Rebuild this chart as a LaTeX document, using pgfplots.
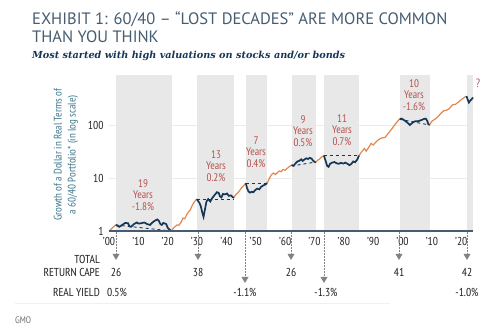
\documentclass[border=0pt]{standalone}
\usepackage{pgfplots}
\pgfplotsset{compat=1.18}
\usepackage{fontspec}
\setmainfont{PT Sans Narrow}
\newfontfamily\titlefont{PT Sans}
\newfontfamily\subfont{DejaVu Serif}
\definecolor{shadec}{RGB}{232,232,232}
\definecolor{navy}{RGB}{22,54,88}
\definecolor{orng}{RGB}{226,135,76}
\definecolor{redtxt}{RGB}{181,84,80}
\definecolor{titlec}{RGB}{70,92,112}
\definecolor{tealc}{RGB}{62,118,140}
\definecolor{arrowc}{RGB}{130,130,130}
\begin{document}
\begin{tikzpicture}[x=1pt,y=1pt]
\path[use as bounding box] (0,0) rectangle (500,334);
\begin{axis}[
  at={(109pt,103pt)}, anchor=south west, scale only axis,
  width=364pt, height=156pt,
  xmin=1900, xmax=2024, ymode=log, ymin=1, ymax=877,
  axis line style={draw=none}, tick style={draw=none},
  xtick={1900,1910,...,2020},
  xticklabels={’00,’10,’20,’30,’40,’50,’60,’70,’80,’90,’00,’10,’20},
  ytick={1,10,100}, yticklabels={1,10,100},
  xticklabel style={font=\fontsize{11.5}{12}\selectfont, text=black!85, anchor=base, yshift=-15pt},
  yticklabel style={font=\fontsize{11.5}{12}\selectfont, text=black!85, anchor=east, xshift=-2pt},
  ymajorgrids, grid style={black!8, line width=0.5pt},
  clip=false,
]
% shaded lost decades
\fill[shadec] (axis cs:1902.3,1) rectangle (axis cs:1921.3,877);
\fill[shadec] (axis cs:1929.9,1) rectangle (axis cs:1942.5,877);
\fill[shadec] (axis cs:1946.6,1) rectangle (axis cs:1953.9,877);
\fill[shadec] (axis cs:1962.2,1) rectangle (axis cs:1970.4,877);
\fill[shadec] (axis cs:1973.2,1) rectangle (axis cs:1985.2,877);
\fill[shadec] (axis cs:1999.0,1) rectangle (axis cs:2009.2,877);
\fill[shadec] (axis cs:2021.8,1) rectangle (axis cs:2024,877);
% dashed trend lines
\addplot[navy, dashed, line width=0.9pt] coordinates {(1902.3,1.3) (1921.3,1.0)};
\addplot[navy, dashed, line width=0.9pt] coordinates {(1929.9,4.0) (1942.5,4.0)};
\addplot[navy, dashed, line width=0.9pt] coordinates {(1946.6,8.0) (1953.9,8.0)};
\addplot[navy, dashed, line width=0.9pt] coordinates {(1962.2,16.8) (1970.4,20.0)};
\addplot[navy, dashed, line width=0.9pt] coordinates {(1973.2,26.5) (1985.2,26.5)};
\addplot[navy, dashed, line width=0.9pt] coordinates {(1999.0,128) (2009.2,100)};
% orange segments
\addplot[orng, line width=1.2pt] coordinates {(1900,1.0) (1900.7,1.08) (1901.4,1.18) (1902.3,1.3)};
\addplot[orng, line width=1.2pt] coordinates {(1921.3,1.0) (1922,1.15) (1922.6,1.22) (1923.2,1.3) (1923.8,1.28) (1924.5,1.45) (1925.2,1.75) (1925.8,1.7) (1926.4,2.0) (1927.1,2.3) (1927.7,2.5) (1928.3,3.0) (1929,3.5) (1929.9,4.0)};
\addplot[orng, line width=1.2pt] coordinates {(1942.5,4.2) (1943.1,4.8) (1943.8,5.2) (1944.5,5.8) (1945.2,6.6) (1945.9,7.2) (1946.6,8.0)};
\addplot[orng, line width=1.2pt] coordinates {(1953.9,8.0) (1954.5,9.5) (1955.3,11.5) (1956,12.4) (1956.7,11.6) (1957.3,12.5) (1958,13.6) (1958.7,13.2) (1959.3,14.5) (1960,14.0) (1960.7,15.2) (1961.5,16.5) (1962.2,17.6)};
\addplot[orng, line width=1.2pt] coordinates {(1970.4,19.5) (1971,21.5) (1971.6,22.5) (1972.3,24.5) (1973.2,26.5)};
\addplot[orng, line width=1.2pt] coordinates {(1985.2,26.5) (1986,31) (1987,36) (1987.6,32) (1988.5,38) (1989.3,45) (1990,42) (1991,48) (1992,54) (1993,57) (1994,58) (1995,68) (1996,80) (1997,95) (1998,112) (1999,130)};
\addplot[orng, line width=1.2pt] coordinates {(2009.2,100) (2010,118) (2011,128) (2012,142) (2013,165) (2014,185) (2015,190) (2016,205) (2017,240) (2018,245) (2019,270) (2020,300) (2021,330) (2021.8,350)};
% blue segments
\addplot[navy, line width=1.7pt] coordinates {(1902.3,1.3) (1903,1.25) (1903.5,1.2) (1904.5,1.3) (1905.5,1.42) (1906.5,1.4) (1907,1.22) (1907.5,1.2) (1908.5,1.35) (1909.5,1.45) (1910,1.38) (1911,1.4) (1912,1.45) (1913,1.35) (1914,1.3) (1914.5,1.4) (1915.5,1.55) (1916.5,1.65) (1917,1.55) (1917.5,1.35) (1918,1.3) (1918.5,1.42) (1919.5,1.35) (1920,1.15) (1920.7,1.05) (1921.3,1.0)};
\addplot[navy, line width=1.7pt] coordinates {(1929.9,4.0) (1930.3,3.7) (1930.8,3.4) (1931.3,2.9) (1931.8,2.2) (1932.2,1.85) (1932.6,2.4) (1933.2,3.6) (1933.8,4.0) (1934.5,3.6) (1935.2,4.2) (1936,4.8) (1936.8,5.4) (1937.4,5.2) (1937.8,4.5) (1938.3,4.3) (1938.8,5.0) (1939.5,4.9) (1940.2,5.1) (1940.8,4.6) (1941.5,4.7) (1942.5,4.2)};
\addplot[navy, line width=1.7pt] coordinates {(1946.6,8.0) (1947,6.5) (1947.5,5.6) (1948,5.3) (1948.6,5.5) (1949.2,5.4) (1949.8,5.9) (1950.5,6.3) (1951.2,6.1) (1951.8,6.8) (1952.5,7.2) (1953.2,7.5) (1953.9,8.0)};
\addplot[navy, line width=1.7pt] coordinates {(1962.2,17.6) (1962.9,17.0) (1963.5,18.8) (1964.2,20.5) (1964.8,21.0) (1965.5,22.5) (1966,21.0) (1966.5,22.2) (1967.2,23.5) (1967.8,22.8) (1968.4,24.0) (1969,23.2) (1969.6,21.0) (1970.4,19.5)};
\addplot[navy, line width=1.7pt] coordinates {(1973.2,26.5) (1973.8,21) (1974.3,17) (1974.8,16.2) (1975.3,18.5) (1976,19.5) (1976.8,20) (1977.5,19) (1978.2,18.5) (1979,19.3) (1979.8,18.7) (1980.5,19.5) (1981.2,18.6) (1981.9,17.5) (1982.5,18.3) (1983.2,20.5) (1983.8,19.8) (1984.5,22) (1985.2,26.5)};
\addplot[navy, line width=1.7pt] coordinates {(1999,130) (1999.7,132) (2000.4,125) (2001,118) (2001.7,110) (2002.5,100) (2003.2,108) (2003.8,115) (2004.5,118) (2005.2,117) (2005.9,121) (2006.6,125) (2007.3,130) (2007.9,132) (2008.4,120) (2008.8,103) (2009.2,100)};
\addplot[navy, line width=1.7pt] coordinates {(2021.8,350) (2022.2,300) (2022.6,265) (2023,285) (2023.5,305) (2024,330)};
% bottom axis line
\draw[titlec, line width=1.5pt] (axis cs:1900,1) -- (axis cs:2024,1);
\end{axis}
% region labels
\tikzset{rl/.style={align=center, text=redtxt, font=\fontsize{11}{11.5}\selectfont}}
\node[rl] at (143,139) {19\\Years\\-1.8\%};
\node[rl] at (216,168) {13\\Years\\0.2\%};
\node[rl] at (256,182) {7\\Years\\0.4\%};
\node[rl] at (303,203) {9\\Years\\0.5\%};
\node[rl] at (342,204) {11\\Years\\0.7\%};
\node[rl] at (414,239) {10\\Years\\-1.6\%};
\node[text=redtxt, font=\fontsize{12}{13}\selectfont] at (478,251) {?};
% y label
\node[rotate=90, align=center, text=tealc, font=\fontsize{11}{14}\selectfont] at (66,179) {Growth of a Dollar in Real Terms of\\a 60/40 Portfolio* (in log scale)};
% title
\node[anchor=base west, text=titlec, font=\titlefont\fontsize{16.5}{18}\selectfont, inner sep=0] at (32,309) {EXHIBIT 1: 60/40 – “LOST DECADES” ARE MORE COMMON};
\node[anchor=base west, text=titlec, font=\titlefont\fontsize{16.5}{18}\selectfont, inner sep=0] at (32,291) {THAN YOU THINK};
\node[anchor=base west, text=navy, font=\subfont\bfseries\itshape\fontsize{9.7}{12}\selectfont, inner sep=0] at (32,275) {Most started with high valuations on stocks and/or bonds};
% arrows
\foreach \x in {116,198,291,399,467}{
  \draw[arrowc, densely dotted, line width=0.5pt] (\x,102) -- (\x,80);
  \fill[arrowc] (\x-3.5,80) -- (\x+3.5,80) -- (\x,74) -- cycle;
}
\foreach \x in {245,324}{
  \draw[arrowc, densely dotted, line width=0.5pt] (\x,102) -- (\x,57);
  \fill[arrowc] (\x-3.5,57) -- (\x+3.5,57) -- (\x,51) -- cycle;
}
% bottom table
\tikzset{bt/.style={inner sep=0, text=black!88, font=\fontsize{11.5}{12}\selectfont}}
\node[bt, anchor=base east] at (100,70) {TOTAL};
\node[bt, anchor=base east] at (100,57) {RETURN CAPE};
\node[bt, anchor=base east] at (100,37) {REAL YIELD};
\node[bt, anchor=base] at (116,57) {26};
\node[bt, anchor=base] at (198,57) {38};
\node[bt, anchor=base] at (291,57) {26};
\node[bt, anchor=base] at (399,57) {41};
\node[bt, anchor=base] at (467,57) {42};
\node[bt, anchor=base] at (117,37) {0.5\%};
\node[bt, anchor=base] at (245,37) {-1.1\%};
\node[bt, anchor=base] at (326,37) {-1.3\%};
\node[bt, anchor=base] at (467,37) {-1.0\%};
\draw[black!6, line width=0.6pt] (15,31) -- (390,31);
\node[anchor=base west, inner sep=0, text=black!55, font=\fontsize{9.5}{10}\selectfont] at (15,10) {GMO};
\end{tikzpicture}
\end{document}
